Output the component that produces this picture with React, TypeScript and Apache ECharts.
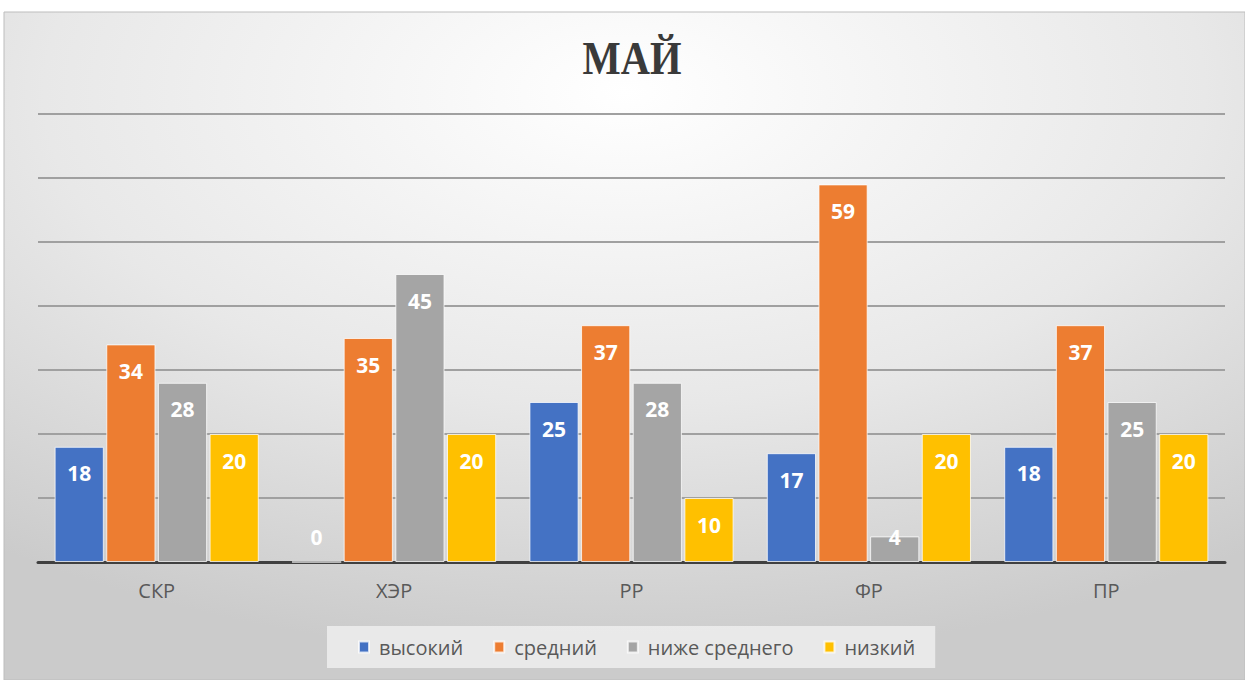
import React, { useEffect, useRef } from "react";
import * as echarts from "echarts";

const categories = ["СКР", "ХЭР", "РР", "ФР", "ПР"];
const seriesNames = ["высокий", "средний", "ниже среднего", "низкий"];
const high = [18, 0, 25, 17, 18];
const medium = [34, 35, 37, 59, 37];
const belowMedium = [28, 45, 28, 4, 25];
const low = [20, 20, 10, 20, 20];
const seriesValues = [high, medium, belowMedium, low];
const colors = ["#4472C4", "#ED7D31", "#A5A5A5", "#FFC000"];
const titleText = "МАЙ";

export default function App() {
  const ref = useRef<HTMLDivElement>(null);
  useEffect(() => {
    if (!ref.current) return;
    const chart = echarts.init(ref.current, undefined, { renderer: "svg" });
    const font = "'Open Sans', 'Noto Sans', sans-serif";
    chart.setOption({
      animation: false,
      backgroundColor: "#ffffff",
      graphic: [
        {
          type: "rect",
          z: -10,
          shape: { x: 4, y: 12, width: 1241, height: 668 },
          style: {
            fill: {
              type: "radial",
              x: 0.5,
              y: 0.12,
              r: 0.85,
              colorStops: [
                { offset: 0, color: "#ffffff" },
                { offset: 0.55, color: "#e8e8e8" },
                { offset: 1, color: "#cbcbcb" },
              ],
            },
            stroke: "#bdbdbd",
            lineWidth: 1,
          },
        },
        {
          type: "text",
          x: 632,
          y: 58,
          scaleX: 0.88,
          z: 10,
          style: {
            text: titleText,
            x: 0,
            y: 0,
            align: "center",
            verticalAlign: "middle",
            fontFamily: "'Liberation Serif', 'DejaVu Serif', serif",
            fontWeight: "bold",
            fontSize: 46,
            fill: "#3a3a3a",
          },
        },
      ],
      legend: {
        data: seriesNames,
        bottom: 12,
        left: 327,
        itemWidth: 10,
        itemHeight: 11,
        itemGap: 30,
        padding: [11, 20, 11, 31],
        backgroundColor: "rgba(240,240,240,0.8)",
        icon: "rect",
        textStyle: { fontFamily: font, fontSize: 20, color: "#595959", padding: [0, 0, 0, 5] },
      },
      grid: { left: 38, right: 20, top: 114, bottom: 118, containLabel: false },
      xAxis: {
        type: "category",
        data: categories,
        axisLine: { lineStyle: { color: "#404040", width: 3 } },
        axisTick: { show: false },
        axisLabel: { fontFamily: font, fontSize: 20, color: "#595959", margin: 18 },
      },
      yAxis: {
        type: "value",
        min: 0,
        max: 70,
        interval: 10,
        axisLabel: { show: false },
        axisLine: { show: false },
        axisTick: { show: false },
        splitLine: { lineStyle: { color: "#a0a0a0", width: 2 } },
      },
      series: seriesValues.map((vals, i) => ({
        name: seriesNames[i],
        type: "bar",
        barGap: "5%",
        barCategoryGap: "14%",
        itemStyle: {
          color: colors[i],
          borderColor: "rgba(255,255,255,0.75)",
          borderWidth: 1,
        },
        label: {
          show: true,
          position: "insideTop",
          distance: 16,
          color: "#ffffff",
          fontFamily: font,
          fontWeight: "bold",
          fontSize: 21,
        },
        data: vals.map((v) =>
          v < 8
            ? { value: v, label: { position: "insideBottom", distance: 15 } }
            : v
        ),
      })),
    });
    return () => chart.dispose();
  }, []);
  return (
    <div
      ref={ref}
      style={{ position: "fixed", left: 0, top: 0, width: 1245, height: 680 }}
    />
  );
}
